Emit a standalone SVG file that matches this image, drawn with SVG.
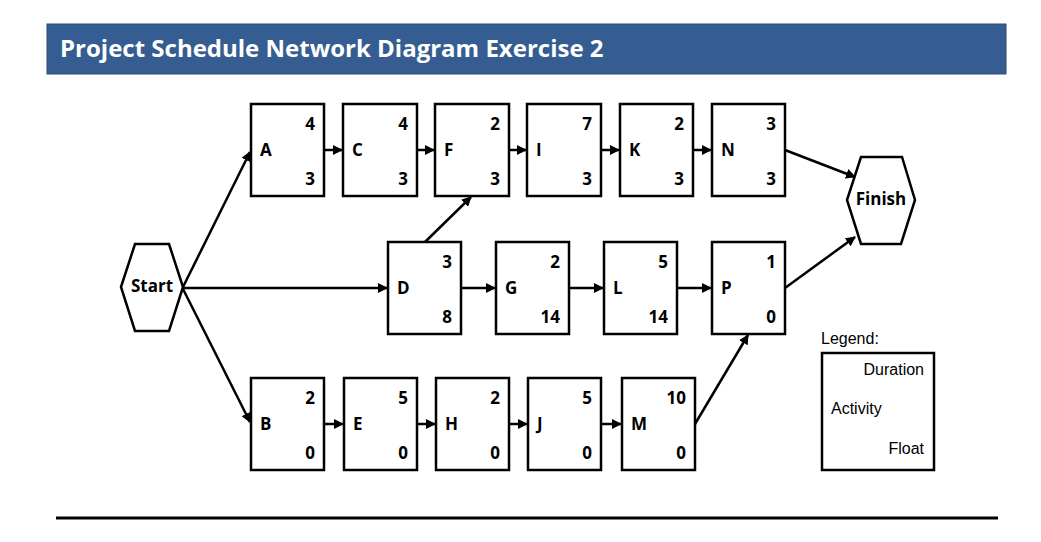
<svg xmlns="http://www.w3.org/2000/svg" width="1041" height="542" viewBox="0 0 1041 542">
<style>
.b{fill:#fff;stroke:#000;stroke-width:2.5}
.t{font-family:"Open Sans",sans-serif;font-weight:bold;font-size:17px;fill:#000}
.n{text-anchor:end}
.c line{stroke:#000;stroke-width:2.5;marker-end:url(#a)}
.lg{font-family:"Liberation Sans",sans-serif;font-size:16px;fill:#000}
</style>
<defs><marker id="a" viewBox="0 0 10 10" refX="9" refY="5" markerWidth="4" markerHeight="4" orient="auto" markerUnits="strokeWidth"><path d="M0,0L10,5L0,10z" fill="#000"/></marker></defs>
<rect x="47" y="24" width="959" height="50" fill="#355d91" stroke="#2a4a75"/>
<text x="60" y="57" font-family="Open Sans,sans-serif" font-weight="bold" font-size="24" fill="#fff">Project Schedule Network Diagram Exercise 2</text>
<line x1="56" y1="518" x2="998" y2="518" stroke="#000" stroke-width="3"/>
<g class="c">
<line x1="183" y1="287" x2="250" y2="152"/>
<line x1="183" y1="288" x2="387" y2="288"/>
<line x1="183" y1="289" x2="250" y2="422"/>
<line x1="324" y1="150" x2="342" y2="150"/>
<line x1="417" y1="150" x2="434" y2="150"/>
<line x1="509" y1="150" x2="526" y2="150"/>
<line x1="601" y1="150" x2="619" y2="150"/>
<line x1="693" y1="150" x2="711" y2="150"/>
<line x1="425" y1="242" x2="471" y2="197"/>
<line x1="461" y1="288" x2="495" y2="288"/>
<line x1="569" y1="288" x2="603" y2="288"/>
<line x1="677" y1="288" x2="711" y2="288"/>
<line x1="324" y1="424" x2="343" y2="424"/>
<line x1="417" y1="424" x2="435" y2="424"/>
<line x1="509" y1="424" x2="527" y2="424"/>
<line x1="601" y1="424" x2="621" y2="424"/>
<line x1="695" y1="424" x2="748" y2="335"/>
<line x1="785" y1="150" x2="855" y2="177"/>
<line x1="785" y1="288" x2="855" y2="237"/>
</g>
<g id="start"><polygon class="b" points="121,287 135,244 169,244 183,287 169,331 135,331"/><text class="t" x="152" y="292" font-size="12" text-anchor="middle">Start</text></g>
<g id="finish"><polygon class="b" points="847,200 861,157 902,157 915,200 901,244 861,244"/><text class="t" x="881" y="205" font-size="12" text-anchor="middle">Finish</text></g>
<g id="A"><rect class="b" x="251" y="104" width="73" height="92"/><text class="t" x="260" y="156">A</text><text class="t n" x="315" y="130">4</text><text class="t n" x="315" y="185">3</text></g>
<g id="C"><rect class="b" x="343" y="104" width="74" height="92"/><text class="t" x="352" y="156">C</text><text class="t n" x="408" y="130">4</text><text class="t n" x="408" y="185">3</text></g>
<g id="F"><rect class="b" x="435" y="104" width="74" height="92"/><text class="t" x="444" y="156">F</text><text class="t n" x="500" y="130">2</text><text class="t n" x="500" y="185">3</text></g>
<g id="I"><rect class="b" x="527" y="104" width="74" height="92"/><text class="t" x="536" y="156">I</text><text class="t n" x="592" y="130">7</text><text class="t n" x="592" y="185">3</text></g>
<g id="K"><rect class="b" x="620" y="104" width="73" height="92"/><text class="t" x="629" y="156">K</text><text class="t n" x="684" y="130">2</text><text class="t n" x="684" y="185">3</text></g>
<g id="N"><rect class="b" x="712" y="104" width="73" height="92"/><text class="t" x="721" y="156">N</text><text class="t n" x="776" y="130">3</text><text class="t n" x="776" y="185">3</text></g>
<g id="D"><rect class="b" x="388" y="242" width="73" height="92"/><text class="t" x="397" y="294">D</text><text class="t n" x="452" y="268">3</text><text class="t n" x="452" y="323">8</text></g>
<g id="G"><rect class="b" x="496" y="242" width="73" height="92"/><text class="t" x="505" y="294">G</text><text class="t n" x="560" y="268">2</text><text class="t n" x="560" y="323">14</text></g>
<g id="L"><rect class="b" x="604" y="242" width="73" height="92"/><text class="t" x="613" y="294">L</text><text class="t n" x="668" y="268">5</text><text class="t n" x="668" y="323">14</text></g>
<g id="P"><rect class="b" x="712" y="242" width="73" height="92"/><text class="t" x="721" y="294">P</text><text class="t n" x="776" y="268">1</text><text class="t n" x="776" y="323">0</text></g>
<g id="B"><rect class="b" x="251" y="378" width="73" height="92"/><text class="t" x="260" y="430">B</text><text class="t n" x="315" y="404">2</text><text class="t n" x="315" y="459">0</text></g>
<g id="E"><rect class="b" x="344" y="378" width="73" height="92"/><text class="t" x="353" y="430">E</text><text class="t n" x="408" y="404">5</text><text class="t n" x="408" y="459">0</text></g>
<g id="H"><rect class="b" x="436" y="378" width="73" height="92"/><text class="t" x="445" y="430">H</text><text class="t n" x="500" y="404">2</text><text class="t n" x="500" y="459">0</text></g>
<g id="J"><rect class="b" x="528" y="378" width="73" height="92"/><text class="t" x="537" y="430">J</text><text class="t n" x="592" y="404">5</text><text class="t n" x="592" y="459">0</text></g>
<g id="M"><rect class="b" x="622" y="378" width="73" height="92"/><text class="t" x="631" y="430">M</text><text class="t n" x="686" y="404">10</text><text class="t n" x="686" y="459">0</text></g>
<g id="legend"><text class="lg" x="821" y="344">Legend:</text><rect class="b" x="822" y="353" width="112" height="117"/><text class="lg" x="924" y="375" text-anchor="end">Duration</text><text class="lg" x="831" y="414">Activity</text><text class="lg" x="924" y="454" text-anchor="end">Float</text></g>
</svg>
